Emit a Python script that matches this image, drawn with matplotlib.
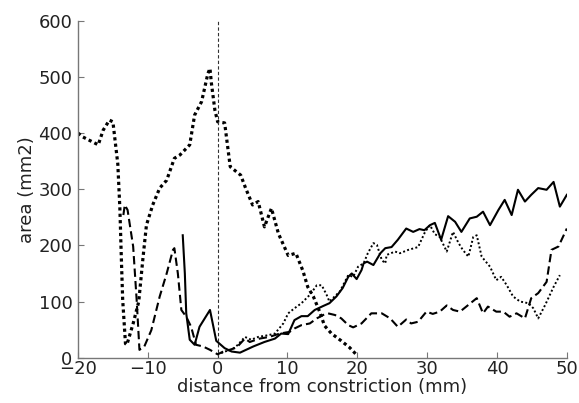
import matplotlib
matplotlib.use('Agg')
import matplotlib.pyplot as plt

plt.rcParams['font.family'] = ['DejaVu Sans']

# heavy dotted series (upstream)
x_up = [-20, -19.3, -17.1, -16.4, -15.5, -15.0, -14.3, -14.0, -13.8, -13.6, -13.2, -13.0,
        -12.1, -11.3, -10.7, -10.2, -9.3, -8.3, -7.3, -6.2, -5.4, -4.0, -3.3, -2.3,
        -1.4, -1.1, -0.9, -0.4, 0, 1, 1.8, 3.3, 4.0, 5.0, 5.8, 6.7, 7.7, 8.7, 10.1,
        11.2, 12.2, 12.9, 13.7, 14.6, 15.3, 16.3, 17.7, 18.9, 19.9]
y_up = [400, 393, 379, 405, 423, 420, 345, 265, 180, 103, 25, 23,
        61, 100, 177, 236, 272, 302, 316, 355, 361, 379, 432, 456,
        506, 515, 489, 441, 420, 418, 340, 325, 302, 272, 278, 233, 266, 221, 182,
        186, 155, 126, 109, 82, 57, 43, 30, 18, 5]

# thin dotted series
x_thin = [0.5, 1, 2, 2.9, 3.9, 4.8, 5.8, 7.2, 8.2, 9.4, 10.1, 11.0, 12.0, 13.2, 14.2,
          14.9, 15.6, 16.0, 16.5, 17.5, 18.7, 19.4, 20.1, 20.9, 21.5, 22.3, 22.8, 23.5,
          24.0, 24.2, 25.4, 26.1, 27.3, 28.7, 29.7, 30.4, 31.1, 31.8, 32.8, 33.7, 34.5,
          35.1, 35.9, 36.6, 37.1, 37.8, 39.0, 39.9, 40.6, 41.4, 42.3, 43.3, 44.5, 45.2,
          45.9, 46.9, 48.1, 49.0]
y_thin = [8, 11, 14, 23, 37, 32, 37, 40, 43, 61, 79, 88, 97, 112, 129,
          129, 112, 100, 106, 118, 147, 144, 162, 168, 186, 204, 201, 174,
          168, 183, 189, 186, 192, 197, 224, 236, 220, 215, 189, 224, 204,
          192, 180, 215, 218, 180, 162, 138, 144, 129, 109, 100, 97, 88,
          70, 94, 126, 147]

# solid series
x_solid = [-5.0, -4.7, -4.5, -4.0, -3.3, -2.6, -1.1, -0.2, 1.0, 2.0, 3.2, 5.1, 6.7, 8.2,
           9.1, 10.1, 11.0, 12.0, 12.9, 13.9, 15.1, 16.0, 17.0, 17.9, 18.7, 19.2, 19.9,
           20.6, 20.9, 21.4, 22.3, 23.3, 24.0, 24.9, 25.8, 27.0, 28.0, 28.9, 29.6, 30.4,
           31.1, 32.0, 33.0, 34.0, 34.9, 36.1, 37.1, 38.0, 39.0, 40.2, 41.1, 42.1, 43.0,
           44.0, 44.9, 45.9, 47.1, 48.1, 49.0, 50.0]
y_solid = [218, 150, 79, 32, 23, 55, 85, 30, 17, 11, 9, 20, 28, 34,
           43, 42, 67, 74, 74, 85, 92, 97, 109, 124, 144, 150, 140,
           156, 168, 171, 165, 186, 195, 197, 210, 230, 224, 229, 227, 236,
           240, 210, 252, 242, 224, 248, 251, 260, 236, 263, 281, 254, 299,
           278, 290, 302, 299, 313, 269, 290]

# dashed series
x_dash = [-13.5, -13.3, -12.9, -12.1, -11.6, -11.2, -10.5, -9.5, -8.3, -7.3, -6.4, -6.2,
          -5.7, -5.2, -4.5, -3.8, -3.1, -2.1, -1.1, 0.0, 0.8, 1.7, 2.7, 3.9, 4.6, 6.0,
          7.4, 8.9, 10.3, 11.0, 12.0, 13.2, 14.2, 15.1, 15.8, 16.8, 17.7, 18.7, 19.4,
          20.6, 22.0, 23.5, 24.7, 25.8, 27.0, 27.7, 28.7, 29.9, 30.8, 31.8, 32.8, 33.7,
          34.7, 35.6, 37.1, 38.0, 38.7, 39.9, 40.9, 41.8, 42.8, 44.0, 44.9, 45.9, 47.1,
          47.8, 48.8, 50.0]
y_dash = [254, 272, 263, 198, 103, 14, 20, 49, 109, 150, 192, 195,
          150, 85, 73, 55, 23, 20, 14, 6, 11, 14, 18, 34, 28, 34,
          37, 43, 46, 52, 58, 61, 70, 76, 79, 76, 70, 58, 54,
          61, 79, 79, 70, 55, 68, 61, 64, 82, 78, 82, 93, 85,
          82, 91, 106, 79, 91, 82, 82, 73, 79, 70, 106, 115, 135,
          192, 198, 230]

fig = plt.figure(figsize=(5.79, 4.03), dpi=100)
ax = fig.add_axes([0.1347, 0.1124, 0.8443, 0.8362])

ax.plot(x_up, y_up, color='black', linewidth=2.3, linestyle=(0, (1, 1)))
ax.plot(x_thin, y_thin, color='black', linewidth=1.4, linestyle=(0, (1, 1.2)))
ax.plot(x_solid, y_solid, color='black', linewidth=1.5, linestyle='-')
ax.plot(x_dash, y_dash, color='black', linewidth=1.5, linestyle=(0, (4, 2)))
ax.axvline(0, color='#333333', linewidth=0.8, linestyle=(0, (3, 2)))

ax.set_xlim(-20, 50)
ax.set_ylim(0, 600)
ax.set_xticks([-20, -10, 0, 10, 20, 30, 40, 50])
ax.set_yticks([0, 100, 200, 300, 400, 500, 600])

for s in ['top', 'right']:
    ax.spines[s].set_visible(False)
for s in ['left', 'bottom']:
    ax.spines[s].set_color('#777777')
    ax.spines[s].set_linewidth(1.0)
ax.tick_params(direction='in', length=4, color='#777777', labelsize=13,
               labelcolor='#222222')
ax.tick_params(axis='x', pad=2)
ax.tick_params(axis='y', pad=4)

ax.set_xlabel('distance from constriction (mm)', fontsize=13, color='#222222', labelpad=0)
ax.set_ylabel('area (mm2)', fontsize=13, color='#222222', labelpad=2)

fig.savefig('out.png', dpi=100)
